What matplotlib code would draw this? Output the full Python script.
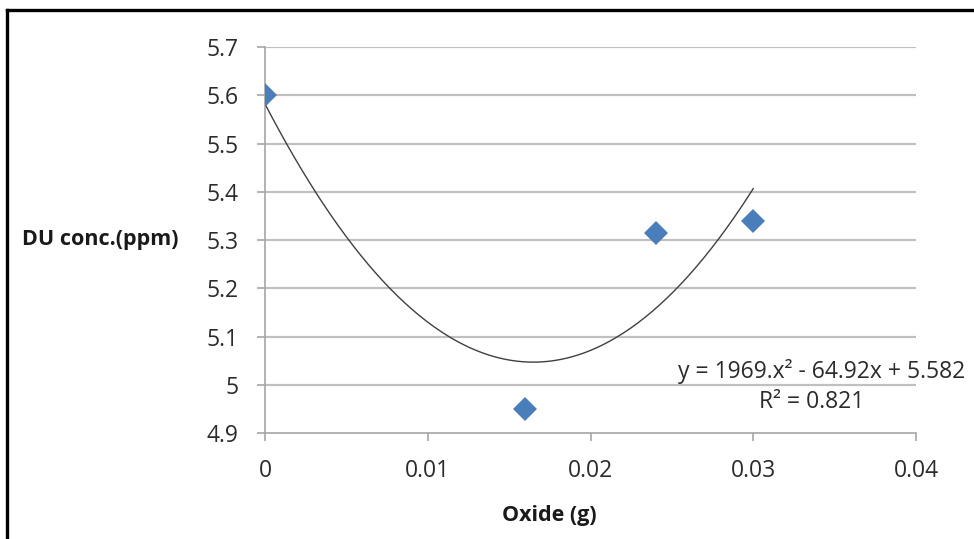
import numpy as np
import matplotlib.pyplot as plt
from matplotlib.lines import Line2D

# measured points
oxide = [0.0, 0.016, 0.024, 0.030]
du_conc = [5.60, 4.95, 5.315, 5.34]

# trendline coefficients shown on the chart
coef = [1969, -64.92, 5.582]
r2 = 0.821

x_ticks = [0, 0.01, 0.02, 0.03, 0.04]
x_labels = ["0", "0.01", "0.02", "0.03", "0.04"]
y_ticks = [4.9, 5.0, 5.1, 5.2, 5.3, 5.4, 5.5, 5.6, 5.7]
y_labels = ["4.9", "5", "5.1", "5.2", "5.3", "5.4", "5.5", "5.6", "5.7"]

plt.rcParams['font.family'] = ['Open Sans', 'DejaVu Sans']

fig = plt.figure(figsize=(9.74, 5.39), dpi=100)
ax = fig.add_axes([265 / 974, 1 - 433 / 539, 651 / 974, 386 / 539])

# outer frame (only top and left edges are visible in the crop)
fig.add_artist(Line2D([7 / 974, 7 / 974], [-0.05, 1 - 10 / 539], transform=fig.transFigure,
                      color='black', lw=2.4))
fig.add_artist(Line2D([7 / 974, 1.05], [1 - 10 / 539, 1 - 10 / 539], transform=fig.transFigure,
                      color='black', lw=2.4))

gray = '#a6a6a6'
for yv in y_ticks[1:]:
    ax.axhline(yv, color='#c0c0c0', lw=1.6, zorder=0)

xs = np.linspace(0, 0.03, 200)
ax.plot(xs, np.polyval(coef, xs), color='#404040', lw=1.0, zorder=2)
ax.plot(oxide, du_conc, 'D', color='#4a7ebb', markersize=12.5, markeredgewidth=0, zorder=3)

ax.set_xlim(0, 0.04)
ax.set_ylim(4.9, 5.7)
ax.set_xticks(x_ticks)
ax.set_xticklabels(x_labels)
ax.set_yticks(y_ticks)
ax.set_yticklabels(y_labels)

for side in ['top', 'right']:
    ax.spines[side].set_visible(False)
for side in ['left', 'bottom']:
    ax.spines[side].set_color(gray)
    ax.spines[side].set_linewidth(1.2)
ax.tick_params(axis='both', colors=gray, labelcolor='#2b2b2b', labelsize=16.5, length=6, width=1.2)
ax.tick_params(axis='x', pad=13)
ax.tick_params(axis='y', pad=13)

fig.text(22 / 974, 1 - 240 / 539, "DU conc.(ppm)", fontsize=15.5, fontweight='bold',
         ha='left', va='center', color='#1a1a1a')
fig.text(549 / 974, 1 - 515 / 539, "Oxide (g)", fontsize=15.5, fontweight='bold',
         ha='center', va='center', color='#1a1a1a')

fig.text(965 / 974, 1 - 371 / 539, "y = %g.x\u00b2 - %gx + %g" % (coef[0], -coef[1], coef[2]),
         fontsize=16.5, ha='right', va='center', color='#2b2b2b')
fig.text(812 / 974, 1 - 402 / 539, "R\u00b2 = %g" % r2,
         fontsize=16.5, ha='center', va='center', color='#2b2b2b')

fig.savefig("out.png", dpi=100)
